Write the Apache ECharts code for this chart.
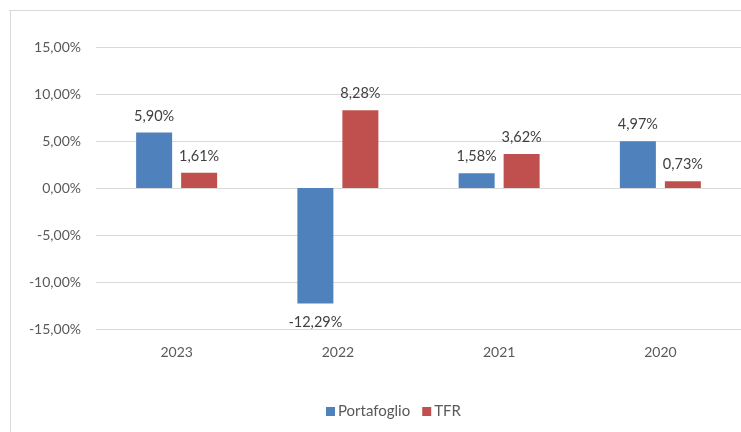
<!DOCTYPE html>
<html>
<head>
<meta charset="utf-8">
<script src="https://cdn.jsdelivr.net/npm/echarts@6/dist/echarts.min.js"></script>
<style>
    html, body { margin: 0; padding: 0; background: #fff; }
    #chart { width: 741px; height: 432px; }
</style>
</head>
<body>
<div id="chart"></div>
<script>
const years = ['2023', '2022', '2021', '2020'];
const portafoglio = [5.90, -12.29, 1.58, 4.97];
const tfr = [1.61, 8.28, 3.62, 0.73];

const FONT = 'Lato, "Open Sans", sans-serif';

function fmtPct(v) {
    return v.toFixed(2).replace('.', ',') + '%';
}

// negative bars get their label below the bar end
function withLabels(values) {
    return values.map(v => v < 0 ? { value: v, label: { position: 'bottom', distance: 11 } } : v);
}

const chart = echarts.init(document.getElementById('chart'));

const barLabel = {
    show: true, position: 'top', distance: 9,
    fontSize: 14.5, color: '#404040', fontFamily: FONT,
    formatter: p => fmtPct(p.value)
};

chart.setOption({
    animation: false,
    textStyle: { fontFamily: FONT },
    grid: { left: 96, top: 47, width: 648, height: 282 },
    legend: {
        data: ['Portafoglio', 'TFR'],
        bottom: 8,
        left: 321,
        itemWidth: 9,
        itemHeight: 9,
        itemGap: 12,
        icon: 'rect',
        textStyle: { fontSize: 15, color: '#595959', fontFamily: FONT, padding: [0, 0, 0, -2] }
    },
    xAxis: {
        type: 'category',
        data: years,
        position: 'bottom',
        axisLine: { show: false },
        axisTick: { show: false },
        axisLabel: { fontSize: 14, color: '#595959', margin: 16, fontFamily: FONT }
    },
    yAxis: {
        type: 'value',
        min: -15,
        max: 15,
        interval: 5,
        axisLine: { show: false },
        axisTick: { show: false },
        splitLine: { lineStyle: { color: '#D9D9D9', width: 1 } },
        axisLabel: { fontSize: 14, color: '#595959', margin: 15, fontFamily: FONT, formatter: v => fmtPct(v) }
    },
    series: [
        {
            name: 'Portafoglio',
            type: 'bar',
            data: withLabels(portafoglio),
            barWidth: 36,
            barGap: '25%',
            itemStyle: { color: '#4F81BD' },
            label: barLabel
        },
        {
            name: 'TFR',
            type: 'bar',
            data: withLabels(tfr),
            barWidth: 36,
            barGap: '25%',
            itemStyle: { color: '#C0504D' },
            label: barLabel
        }
    ],
    graphic: [
        { type: 'line', shape: { x1: 9, y1: 10.5, x2: 741, y2: 10.5 }, style: { stroke: '#D9D9D9', lineWidth: 1 } },
        { type: 'line', shape: { x1: 10.5, y1: 10, x2: 10.5, y2: 432 }, style: { stroke: '#D9D9D9', lineWidth: 1 } }
    ]
});
</script>
</body>
</html>
